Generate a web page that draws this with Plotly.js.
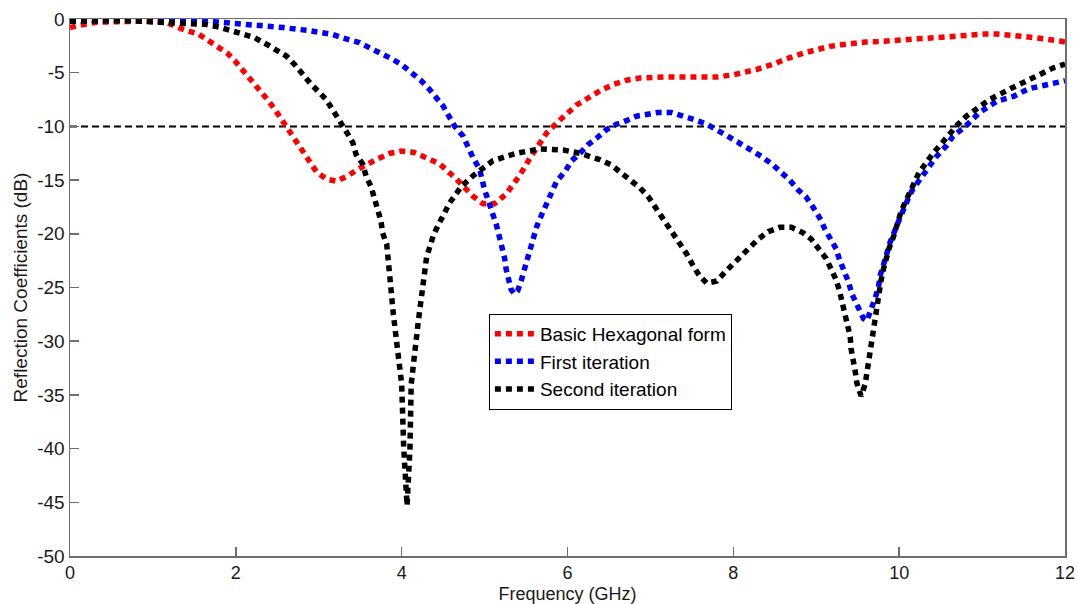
<!DOCTYPE html>
<html>
<head>
<meta charset="utf-8">
<script src="https://cdn.plot.ly/plotly-3.0.1.min.js"></script>
<style>
  html, body { margin: 0; padding: 0; background: #fff; }
  #chart { width: 1078px; height: 604px; }
</style>
</head>
<body>
<div id="chart"></div>
<script>
// Basic Hexagonal form (red)
const basicX = [0, 0.1, 0.32, 0.6, 0.9, 1.16, 1.34, 1.55, 1.66, 1.78, 1.9, 2.0, 2.09, 2.19, 2.28, 2.37, 2.46, 2.54, 2.64, 2.73, 2.89, 2.97, 3.09, 3.21, 3.35, 3.47, 3.69, 3.86, 4.0, 4.14, 4.32, 4.46, 4.66, 4.86, 4.98, 5.12, 5.26, 5.42, 5.56, 5.75, 5.91, 6.11, 6.39, 6.55, 6.71, 6.87, 7.19, 7.51, 7.8, 8.0, 8.28, 8.52, 8.64, 8.86, 9.04, 9.16, 9.31, 9.45, 9.59, 9.75, 9.89, 10.05, 10.21, 10.43, 10.69, 10.87, 11.03, 11.18, 11.32, 11.46, 11.64, 11.8, 11.94, 12];
const basicY = [-0.8, -0.6, -0.3, -0.2, -0.2, -0.3, -0.9, -1.4, -2.0, -2.6, -3.2, -4.0, -4.8, -5.7, -6.5, -7.4, -8.3, -9.2, -10.5, -11.5, -13.3, -14.2, -14.9, -15.1, -14.6, -14.0, -13.1, -12.5, -12.3, -12.4, -13.0, -13.5, -14.9, -16.5, -17.2, -17.2, -16.3, -14.6, -12.8, -10.6, -9.4, -8.0, -6.7, -6.1, -5.7, -5.5, -5.4, -5.4, -5.4, -5.2, -4.7, -4.1, -3.7, -3.15, -2.8, -2.55, -2.4, -2.25, -2.15, -2.1, -2.0, -1.9, -1.85, -1.75, -1.6, -1.45, -1.4, -1.4, -1.45, -1.6, -1.75, -1.85, -2.05, -2.15];

// First iteration (blue)
const firstX = [0, 0.5, 1.0, 1.5, 1.8, 2.13, 2.57, 2.9, 3.17, 3.33, 3.49, 3.63, 3.75, 3.88, 4.0, 4.12, 4.23, 4.33, 4.42, 4.5, 4.64, 4.74, 4.86, 4.94, 5.0, 5.06, 5.1, 5.14, 5.18, 5.2, 5.24, 5.26, 5.3, 5.32, 5.36, 5.4, 5.44, 5.48, 5.52, 5.56, 5.63, 5.69, 5.75, 5.81, 5.87, 5.97, 6.05, 6.15, 6.25, 6.35, 6.47, 6.59, 6.67, 6.83, 7.09, 7.25, 7.39, 7.54, 7.68, 7.78, 7.92, 8.04, 8.18, 8.34, 8.48, 8.58, 8.68, 8.78, 8.88, 8.96, 9.04, 9.1, 9.16, 9.24, 9.28, 9.34, 9.39, 9.43, 9.48, 9.53, 9.57, 9.61, 9.67, 9.71, 9.75, 9.77, 9.81, 9.85, 9.89, 10.0, 10.05, 10.11, 10.16, 10.23, 10.29, 10.45, 10.57, 10.65, 10.8, 10.97, 11.18, 11.38, 11.56, 11.74, 12];
const firstY = [-0.2, -0.1, -0.05, -0.1, -0.3, -0.4, -0.8, -1.1, -1.45, -1.85, -2.2, -2.75, -3.15, -3.7, -4.25, -4.95, -5.7, -6.5, -7.3, -8.1, -10.0, -10.9, -12.9, -14.0, -15.9, -17.1, -18.2, -19.1, -20.2, -21.2, -22.2, -23.3, -24.4, -25.2, -25.6, -25.3, -24.4, -23.3, -22.1, -21.2, -19.3, -18.2, -17.1, -16.2, -15.1, -14.2, -13.2, -12.5, -11.7, -11.1, -10.3, -9.8, -9.6, -9.05, -8.7, -8.7, -9.0, -9.4, -9.8, -10.3, -10.85, -11.4, -12.0, -12.8, -13.6, -14.3, -15.0, -15.9, -16.6, -17.5, -18.5, -19.5, -20.4, -21.4, -22.4, -23.5, -24.5, -25.6, -26.5, -27.4, -27.9, -28.1, -27.0, -26.0, -25.0, -23.9, -22.9, -21.9, -20.8, -18.7, -17.7, -16.7, -15.9, -15.1, -14.6, -12.8, -11.8, -10.9, -10.0, -8.7, -7.65, -7.2, -6.5, -6.2, -5.75];

// Second iteration (black)
const secondX = [0, 0.32, 0.7, 1.08, 1.34, 1.64, 1.8, 1.96, 2.23, 2.37, 2.49, 2.61, 2.71, 2.9, 3.09, 3.25, 3.33, 3.41, 3.45, 3.53, 3.57, 3.63, 3.67, 3.71, 3.75, 3.77, 3.82, 3.9, 4.0, 4.025, 4.065, 4.1, 4.115, 4.2, 4.3, 4.34, 4.38, 4.44, 4.5, 4.58, 4.72, 4.86, 5.1, 5.38, 5.67, 5.95, 6.15, 6.39, 6.53, 6.65, 6.77, 6.87, 6.97, 7.05, 7.13, 7.21, 7.29, 7.38, 7.44, 7.51, 7.59, 7.68, 7.8, 7.92, 8.02, 8.16, 8.3, 8.42, 8.56, 8.7, 8.84, 8.94, 9.04, 9.12, 9.18, 9.24, 9.28, 9.31, 9.34, 9.37, 9.41, 9.42, 9.45, 9.47, 9.49, 9.54, 9.59, 9.61, 9.62, 9.64, 9.66, 9.68, 9.71, 9.73, 9.75, 9.78, 9.81, 9.84, 9.88, 9.93, 9.97, 10.02, 10.07, 10.13, 10.19, 10.24, 10.41, 10.53, 10.61, 10.71, 10.81, 10.95, 11.09, 11.34, 11.58, 11.74, 11.86, 12];
const secondY = [-0.2, -0.2, -0.15, -0.3, -0.4, -0.5, -0.75, -1.1, -1.75, -2.35, -2.85, -3.45, -4.25, -6.0, -7.5, -9.35, -10.45, -11.5, -12.6, -13.5, -14.6, -15.6, -16.6, -17.7, -18.8, -19.9, -21.0, -27.5, -34.0, -40.0, -45.3, -40.0, -34.0, -28.2, -22.2, -21.2, -20.2, -19.2, -18.2, -17.1, -15.6, -14.6, -13.2, -12.5, -12.1, -12.2, -12.5, -13.1, -13.6, -14.3, -15.0, -15.7, -16.5, -17.4, -18.2, -19.1, -20.1, -21.0, -21.9, -22.9, -23.9, -24.6, -24.4, -23.4, -22.6, -21.6, -20.5, -19.8, -19.4, -19.4, -19.9, -20.5, -21.4, -22.3, -23.3, -24.3, -25.3, -26.4, -27.4, -28.5, -29.6, -30.7, -31.8, -32.8, -33.9, -35.1, -34.0, -33.0, -31.9, -30.8, -29.8, -28.8, -27.6, -26.6, -25.5, -24.4, -23.3, -22.2, -21.3, -20.3, -19.1, -18.0, -17.1, -16.1, -15.2, -14.3, -12.5, -11.4, -10.6, -9.8, -9.05, -8.2, -7.5, -6.5, -5.6, -4.95, -4.55, -4.2];

// -10 dB reference line
const refX = [0, 12];
const refY = [-10, -10];

const seriesNames = ['Basic Hexagonal form', 'First iteration', 'Second iteration'];
const xTickVals = [0, 2, 4, 6, 8, 10, 12];
const xTickText = ['0', '2', '4', '6', '8', '10', '12'];
const yTickVals = [0, -5, -10, -15, -20, -25, -30, -35, -40, -45, -50];
const yTickText = ['0', '-5', '-10', '-15', '-20', '-25', '-30', '-35', '-40', '-45', '-50'];

const FONT = 'Liberation Sans, Arial, sans-serif';
const dotDash = '6px,5px';

const traces = [
  { x: refX, y: refY, mode: 'lines', showlegend: false, hoverinfo: 'skip',
    line: { color: '#000', width: 2, dash: '7px,4px' } },
  { x: basicX, y: basicY, mode: 'lines', name: seriesNames[0],
    line: { color: '#ff0000', width: 5.5, dash: dotDash } },
  { x: firstX, y: firstY, mode: 'lines', name: seriesNames[1],
    line: { color: '#0000ff', width: 5.5, dash: dotDash } },
  { x: secondX, y: secondY, mode: 'lines', name: seriesNames[2],
    line: { color: '#000000', width: 5.5, dash: dotDash } }
];

const axisCol = '#6e6e6e';
const txtCol = '#1a1a1a';
const FS = 19;
const layout = {
  width: 1078, height: 604,
  margin: { l: 70, r: 13, t: 19, b: 48, pad: 0 },
  paper_bgcolor: '#fff', plot_bgcolor: '#fff',
  font: { family: FONT, size: FS, color: txtCol },
  showlegend: true,
  legend: {
    x: 0.421, y: 0.451, xanchor: 'left', yanchor: 'top',
    bgcolor: '#fff', bordercolor: '#000', borderwidth: 1,
    font: { family: FONT, size: FS, color: '#000' },
    itemwidth: 40, tracegroupgap: 0
  },
  xaxis: {
    range: [0, 12], tickvals: xTickVals, ticktext: xTickText,
    ticks: 'inside', ticklen: 9, tickwidth: 1.5, tickcolor: axisCol,
    showline: true, linecolor: axisCol, linewidth: 1.5, mirror: true,
    showgrid: false, zeroline: false,
    tickfont: { family: FONT, size: 18, color: txtCol },
    title: { text: 'Frequency (GHz)', font: { family: FONT, size: 18, color: txtCol }, standoff: 6 }
  },
  yaxis: {
    range: [-50, 0], tickvals: yTickVals, ticktext: yTickText,
    ticks: 'inside', ticklen: 9, tickwidth: 1.5, tickcolor: axisCol,
    showline: true, linecolor: axisCol, linewidth: 1.5, mirror: true,
    showgrid: false, zeroline: false,
    tickfont: { family: FONT, size: FS, color: txtCol },
    title: { text: 'Reflection Coefficients (dB)', font: { family: FONT, size: FS, color: txtCol }, standoff: 4 }
  },
  xaxis2: {
    overlaying: 'x', side: 'top', anchor: 'y', range: [0, 11], dtick: 1,
    ticks: 'inside', ticklen: 9, tickwidth: 1.5, tickcolor: axisCol,
    showticklabels: false, showline: false, showgrid: false, zeroline: false
  },
  yaxis2: {
    overlaying: 'y', side: 'right', anchor: 'x', range: [-50, 0],
    tickvals: [-5, -15, -25, -35, -45],
    ticks: 'inside', ticklen: 9, tickwidth: 1.5, tickcolor: axisCol,
    showticklabels: false, showline: false, showgrid: false, zeroline: false
  }
};

Plotly.newPlot('chart', traces, layout, { displayModeBar: false, staticPlot: true });
</script>
</body>
</html>
